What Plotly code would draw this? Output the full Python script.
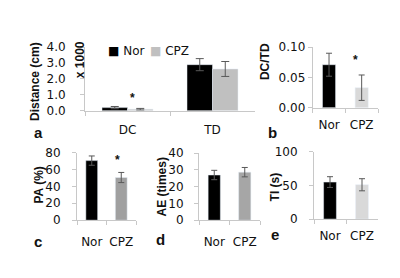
import plotly.graph_objects as go

# ---- data ----
groups = ["Nor", "CPZ"]
a_categories = ["DC", "TD"]
a_nor = [0.2, 2.9]
a_nor_err = [0.07, 0.38]
a_cpz = [0.1, 2.63]
a_cpz_err = [0.05, 0.47]

b_values = [0.071, 0.033]
b_err = [0.019, 0.021]

c_values = [70.5, 50.5]
c_err = [5.5, 6.0]

d_values = [27.0, 28.7]
d_err = [2.8, 2.8]

e_values = [55.0, 51.0]
e_err = [8.0, 9.0]

W, H = 400, 278
FONT = "Liberation Sans"
TFONT = "DejaVu Sans"
AXC = "#c8c8c8"
ERRC = "#595959"
TXT = "#111111"

def px_x(x):
    return x / W

def px_y(y):
    return 1 - y / H

fig = go.Figure()

# panel a (grouped)
fig.add_trace(go.Bar(x=a_categories, y=a_nor, name="Nor", marker_color="#000000",
                     offset=-0.3, width=0.3,
                     error_y=dict(type="data", array=a_nor_err, color=ERRC, thickness=1, width=4),
                     xaxis="x", yaxis="y", showlegend=False))
fig.add_trace(go.Bar(x=a_categories, y=a_cpz, name="CPZ", marker_color="#c0c0c0",
                     offset=0.0, width=0.3,
                     error_y=dict(type="data", array=a_cpz_err, color=ERRC, thickness=1, width=4),
                     xaxis="x", yaxis="y", showlegend=False))

def single(vals, errs, col2, ax):
    fig.add_trace(go.Bar(x=groups, y=vals, marker_color=["#000000", col2], width=0.4,
                         error_y=dict(type="data", array=errs, color=ERRC, thickness=1, width=3),
                         xaxis="x" + ax, yaxis="y" + ax, showlegend=False))

single(b_values, b_err, "#d9d9d9", "2")
single(c_values, c_err, "#a0a0a0", "3")
single(d_values, d_err, "#a6a6a6", "4")
single(e_values, e_err, "#d9d9d9", "5")

tickfont = dict(family=TFONT, size=12, color=TXT)

def xax(dom, anchor, standoff):
    return dict(domain=dom, anchor=anchor, type="category", showline=True, linecolor=AXC,
                linewidth=1, ticks="outside", tickson="boundaries", ticklen=4, tickcolor=AXC,
                tickfont=tickfont, showgrid=False, zeroline=False, ticklabelstandoff=standoff,
                tickangle=0, fixedrange=True)

def yax(dom, anchor, rng, dtick, fmt, standoff):
    return dict(domain=dom, anchor=anchor, range=rng, dtick=dtick, tickformat=fmt,
                showline=True, linecolor=AXC, linewidth=1, ticks="outside", ticklen=4,
                tickcolor=AXC, tickfont=tickfont, showgrid=False, zeroline=False,
                ticklabelstandoff=standoff, fixedrange=True)

layout = dict(
    width=W, height=H, margin=dict(l=0, r=0, t=0, b=0),
    paper_bgcolor="white", plot_bgcolor="white",
    barmode="overlay", showlegend=False,
    font=dict(family=FONT, size=12, color=TXT),
    xaxis=xax([px_x(85), px_x(255)], "y", 8),
    yaxis=yax([px_y(109.3), px_y(42.3)], "x", [0, 4], 1, ".1f", 12),
    xaxis2=xax([px_x(312.7), px_x(378)], "y2", 6),
    yaxis2=yax([px_y(106), px_y(42.3)], "x2", [0, 0.1], 0.05, ".2f", 0),
    xaxis3=xax([px_x(77), px_x(136)], "y3", 10),
    yaxis3=yax([px_y(224.5), px_y(153.3)], "x3", [0, 80], 20, "d", 9),
    xaxis4=xax([px_x(199), px_x(260)], "y4", 10),
    yaxis4=yax([px_y(224.5), px_y(154)], "x4", [0, 40], 10, "d", 8),
    xaxis5=xax([px_x(314), px_x(378)], "y5", 6),
    yaxis5=yax([px_y(223.3), px_y(152.5)], "x5", [0, 100], 50, "d", 9),
)
fig.update_layout(**layout)

def ann(text, x, y, size=12, bold=False, angle=0, xanchor="center", family=FONT):
    t = "<b>%s</b>" % text if bold else text
    fig.add_annotation(text=t, x=px_x(x), y=px_y(y), xref="paper", yref="paper",
                       showarrow=False, textangle=angle, xanchor=xanchor, yanchor="middle",
                       font=dict(family=family, size=size, color=TXT))

# legend (panel a)
ann('<span style="color:#000000">■</span> Nor', 106, 46, 12, False, 0, "left", TFONT)
ann('<span style="color:#c0c0c0">■</span> CPZ', 148, 46, 12, False, 0, "left", TFONT)

# y titles
ann("Distance (cm)", 35, 79, 12, True, -90)
ann("x 1000", 80, 56, 12, True, -90)
ann("DC/TD", 265, 58, 12, True, -90)
ann("PA (%)", 39, 188, 12, True, -90)
ann("AE (times)", 162, 190, 12, True, -90)
ann("TI (s)", 275, 190, 12, True, -90)

# panel letters
ann("a", 38, 132, 15, True)
ann("b", 272, 132, 15, True)
ann("c", 38, 247, 15, True)
ann("d", 160, 245, 15, True)
ann("e", 275, 240, 15, True)

# asterisks
ann("*", 132, 96, 12, True)
ann("*", 355, 56, 12, True)
ann("*", 117, 161, 12, True)

fig.write_html("out.html", config={"displayModeBar": False},
               post_script="document.body.style.margin='0';")
